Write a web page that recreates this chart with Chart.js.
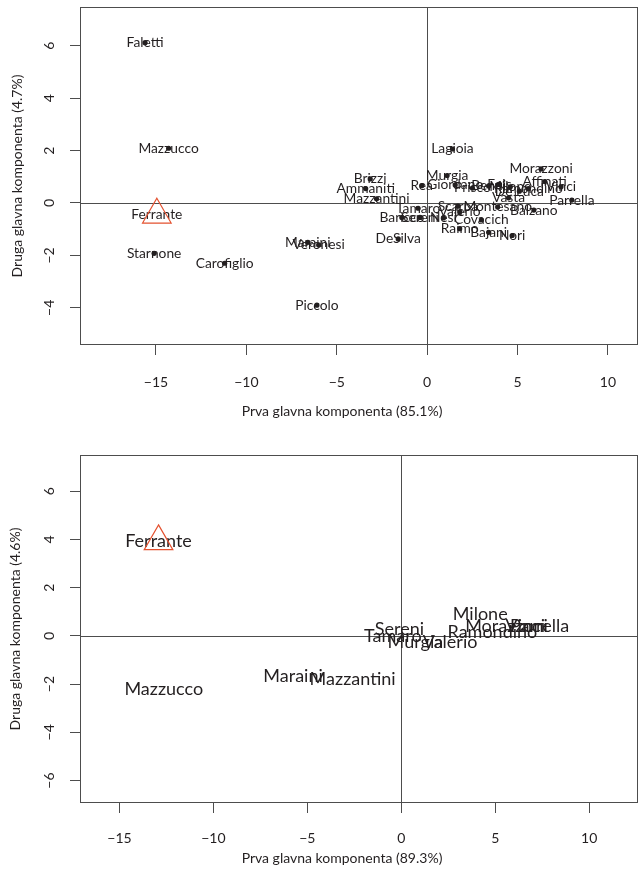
<!DOCTYPE html>
<html>
<head>
<meta charset="utf-8">
<script src="https://cdn.jsdelivr.net/npm/chart.js@4"></script>
<style>
  body { margin: 0; background: #fff; }
  canvas { display: block; }
</style>
</head>
<body>
<canvas id="top" width="638" height="435"></canvas>
<canvas id="bottom" width="638" height="435"></canvas>
<script>
// Upper plot: all authors
const topNames = ["Faletti","Mazzucco","Ferrante","Starnone","Carofiglio","Piccolo","Maraini","Veronesi",
    "Brizzi","Ammaniti","Mazzantini","DeSilva","Lagioia","Murgia","Rea","Giordano","Prisco","Benni",
    "Fois","Milone","Ramondino","De Luca","Vasta","Morazzoni","Affinati","Vinci","Parrella","Balzano",
    "Montesano","Scarpa","Valerio","Tamaro","Sereni","Baricco","Nesi","Covacich","Raimo","Bajani","Nori"];
const topX = [-15.6,-14.3,-14.95,-15.1,-11.2,-6.1,-6.6,-6.0,
    -3.15,-3.4,-2.8,-1.6,1.4,1.1,-0.3,1.55,2.5,3.4,
    4.0,4.6,5.6,5.1,4.5,6.3,6.5,7.4,8.0,5.9,
    3.9,1.7,1.8,-0.5,-0.4,-1.4,0.9,3.0,1.8,3.4,4.7];
const topY = [6.12,2.09,-0.45,-1.92,-2.3,-3.9,-1.5,-1.6,
    0.92,0.55,0.16,-1.37,2.06,1.05,0.66,0.69,0.57,0.65,
    0.72,0.62,0.55,0.45,0.2,1.3,0.82,0.62,0.11,-0.27,
    -0.15,-0.12,-0.34,-0.2,-0.55,-0.55,-0.57,-0.65,-0.98,-1.12,-1.24];

// Lower plot
const botNames = ["Ferrante","Mazzucco","Maraini","Mazzantini","Sereni","Tamaro","Murgia","Valerio",
    "Milone","Morazzoni","Ramondino","Parrella","Vinci"];
const botX = [-12.92,-12.64,-5.76,-2.59,-0.1,-0.45,0.75,2.6,4.2,5.6,4.85,7.36,6.6];
const botY = [3.92,-2.23,-1.68,-1.81,0.27,-0.03,-0.28,-0.28,0.88,0.39,0.14,0.39,0.39];

const FONT = "Lato";
const INK = "#231f20";
const AXIS = "#4d4d4d";
const RED = "#e4512f";

const minus = v => String(v).replace("-", "\u2212");

// frame, zero lines, x title and point labels (labels first, points drawn on top)
const decor = {
    id: "decor",
    beforeDatasetsDraw(chart, args, opts) {
        const { ctx, chartArea: a, scales: { x, y } } = chart;
        ctx.save();
        ctx.strokeStyle = AXIS;
        ctx.lineWidth = 1;
        ctx.strokeRect(a.left + 0.5, a.top + 0.5, a.right - a.left - 1, a.bottom - a.top - 1);
        const x0 = Math.round(x.getPixelForValue(0)) + 0.5;
        const y0 = Math.round(y.getPixelForValue(0)) + 0.5;
        ctx.beginPath();
        ctx.moveTo(x0, a.top); ctx.lineTo(x0, a.bottom);
        ctx.moveTo(a.left, y0); ctx.lineTo(a.right, y0);
        ctx.stroke();

        ctx.fillStyle = INK;
        ctx.textAlign = "center";
        ctx.textBaseline = "middle";
        ctx.font = "14px " + FONT;
        ctx.fillText(opts.xTitle, 342, opts.xTitleY);

        ctx.font = opts.size + "px " + FONT;
        chart.getDatasetMeta(0).data.forEach((pt, i) => {
            ctx.fillText(opts.names[i], pt.x, pt.y);
        });
        ctx.restore();
    }
};

function makeChart(id, names, xs, ys, cfg) {
    const isF = c => names[c.dataIndex] === "Ferrante";
    return new Chart(document.getElementById(id), {
        type: "scatter",
        data: {
            datasets: [{
                data: xs.map((v, i) => ({ x: v, y: ys[i] })),
                pointStyle: c => isF(c) ? "triangle" : "circle",
                pointRadius: c => isF(c) ? 16.5 : cfg.dot,
                backgroundColor: c => isF(c) ? "rgba(0,0,0,0)" : INK,
                borderColor: c => isF(c) ? RED : INK,
                borderWidth: c => isF(c) ? 1.2 : 0,
                clip: false
            }]
        },
        options: {
            responsive: false,
            animation: false,
            layout: { autoPadding: false, padding: { top: cfg.top, right: 0, left: 0, bottom: 0 } },
            plugins: {
                legend: { display: false },
                tooltip: { enabled: false },
                decor: { names: names, size: cfg.labelSize, xTitle: cfg.xTitle, xTitleY: cfg.xTitleY }
            },
            scales: {
                x: {
                    min: cfg.xmin, max: cfg.xmax,
                    border: { display: false },
                    grid: { display: true, drawOnChartArea: false, drawTicks: true, tickLength: 10, color: AXIS },
                    ticks: { stepSize: 5, includeBounds: false, color: INK, padding: cfg.xPad,
                        font: { family: FONT, size: 14 }, callback: minus, maxRotation: 0 },
                    afterFit: s => { s.height = cfg.xHeight; s.paddingLeft = 0; s.paddingRight = 0; }
                },
                y: {
                    min: cfg.ymin, max: cfg.ymax,
                    border: { display: false },
                    grid: { display: true, drawOnChartArea: false, drawTicks: true, tickLength: 10, color: AXIS },
                    ticks: { stepSize: 2, includeBounds: false, color: INK, padding: 12,
                        minRotation: 90, maxRotation: 90, crossAlign: "center",
                        font: { family: FONT, size: 14 }, callback: minus },
                    title: { display: true, text: cfg.yTitle, color: INK,
                        font: { family: FONT, size: 14 }, padding: { top: cfg.yTitlePad, bottom: 0 } },
                    afterFit: s => { s.width = 80; s.paddingTop = 0; s.paddingBottom = 0; }
                }
            }
        },
        plugins: [decor]
    });
}

makeChart("top", topNames, topX, topY, {
    dot: 2.6, labelSize: 13.8, top: 7,
    xmin: -19.2, xmax: 11.66, ymin: -5.42, ymax: 7.48,
    xHeight: 90, xPad: 19, xTitleY: 411, yTitlePad: 9,
    xTitle: "Prva glavna komponenta (85.1%)",
    yTitle: "Druga glavna komponenta (4.7%)"
});

makeChart("bottom", botNames, botX, botY, {
    dot: 0, labelSize: 18, top: 20,
    xmin: -17.1, xmax: 12.6, ymin: -6.93, ymax: 7.5,
    xHeight: 67, xPad: 17, xTitleY: 423, yTitlePad: 7,
    xTitle: "Prva glavna komponenta (89.3%)",
    yTitle: "Druga glavna komponenta (4.6%)"
});
</script>
</body>
</html>
